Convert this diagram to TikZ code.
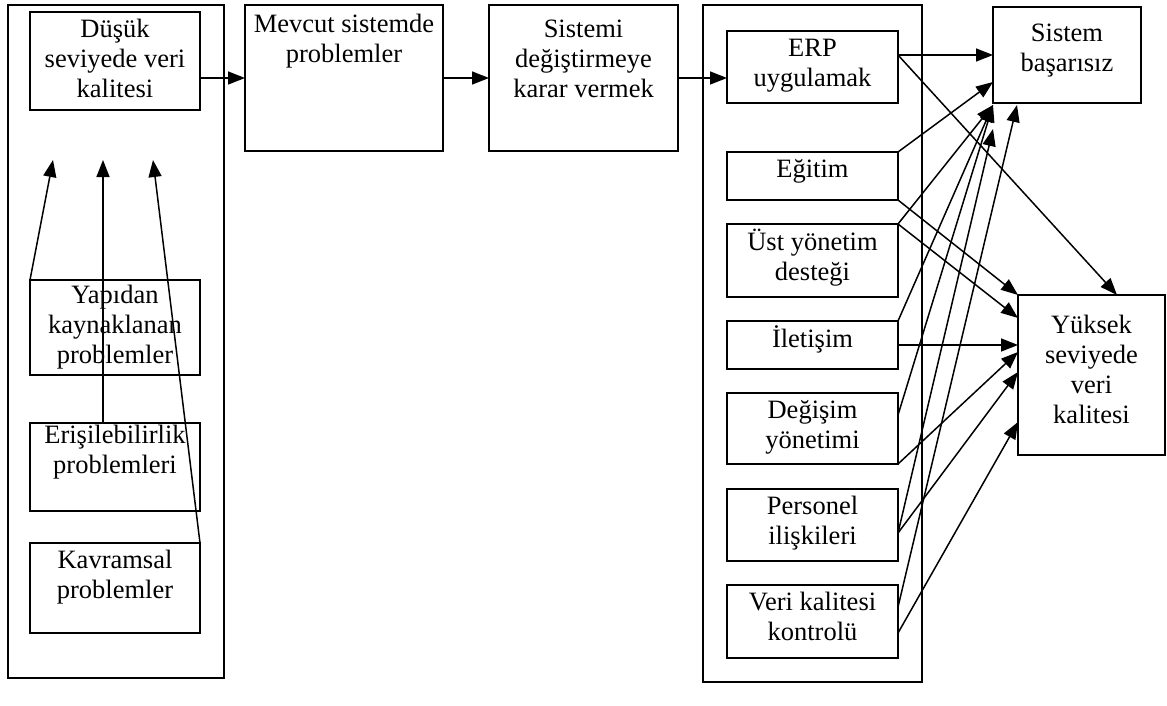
\documentclass[tikz,border=0pt]{standalone}
\usepackage{fontspec}
\setmainfont{Liberation Serif}
\usetikzlibrary{arrows.meta,calc}
\tikzset{
  box/.style={draw, line width=1.5pt, inner sep=0pt, outer sep=0pt, anchor=north west},
  txt/.style={font=\fontsize{26.5}{30}\selectfont, align=flush center, inner sep=0pt, anchor=base, text width=#1},
  txt/.default=168pt,
  conn/.style={line width=1.5pt, -{Triangle[length=17pt,width=13pt]}},
}
\begin{document}
\begin{tikzpicture}[x=1pt,y=-1pt]
\useasboundingbox (0,0) rectangle (1167,706);

% left column: causes of poor data quality
\node[box, minimum width=216pt, minimum height=673pt] (leftframe) at (8,5) {};
\node[box, minimum width=170pt, minimum height=98pt] (dusuk) at (30,12) {};
\node[txt] (dusukT) at (115,38) {Düşük\\seviyede veri\\kalitesi};
\node[box, minimum width=170pt, minimum height=95pt] (yapi) at (30,280) {};
\node[txt] (yapiT) at (115,303) {Yapıdan\\kaynaklanan\\problemler};
\node[box, minimum width=170pt, minimum height=88pt] (eris) at (30,423) {};
\node[txt] (erisT) at (115,443) {Erişilebilirlik\\problemleri};
\node[box, minimum width=170pt, minimum height=90pt] (kavr) at (30,543) {};
\node[txt] (kavrT) at (115,568) {Kavramsal\\problemler};

% middle steps
\node[box, minimum width=198pt, minimum height=146pt] (mevcut) at (245,5) {};
\node[txt=196pt] (mevcutT) at (344,33) {Mevcut sistemde\\problemler};
\node[box, minimum width=189pt, minimum height=146pt] (sistemi) at (489,5) {};
\node[txt=187pt] (sistemiT) at (583.5,38) {Sistemi\\değiştirmeye\\karar vermek};

% right column: ERP factors
\node[box, minimum width=219pt, minimum height=677pt] (rightframe) at (703,5) {};
\node[box, minimum width=171pt, minimum height=72pt] (erp) at (727,31) {};
\node[txt] (erpT) at (812.5,57) {ERP\\uygulamak};
\node[box, minimum width=171pt, minimum height=48pt] (egitim) at (727,152) {};
\node[txt] (egitimT) at (812.5,177) {Eğitim};
\node[box, minimum width=171pt, minimum height=73pt] (ust) at (727,224) {};
\node[txt] (ustT) at (812.5,250) {Üst yönetim\\desteği};
\node[box, minimum width=171pt, minimum height=48pt] (iletisim) at (727,321) {};
\node[txt] (iletisimT) at (812.5,347) {İletişim};
\node[box, minimum width=171pt, minimum height=71pt] (degisim) at (727,393) {};
\node[txt] (degisimT) at (812.5,418) {Değişim\\yönetimi};
\node[box, minimum width=171pt, minimum height=72pt] (personel) at (727,489) {};
\node[txt] (personelT) at (812.5,514) {Personel\\ilişkileri};
\node[box, minimum width=171pt, minimum height=73pt] (veri) at (727,585) {};
\node[txt] (veriT) at (812.5,610) {Veri kalitesi\\kontrolü};

% outcomes
\node[box, minimum width=148pt, minimum height=96pt] (sb) at (993,7) {};
\node[txt=146pt] (sbT) at (1067,42) {Sistem\\başarısız};
\node[box, minimum width=147pt, minimum height=160pt] (yuksek) at (1018,295) {};
\node[txt=145pt] (yuksekT) at (1091.5,333) {Yüksek\\seviyede\\veri\\kalitesi};

% arrow tips inside the left frame
\coordinate (tA) at (53,160);
\coordinate (tB) at (103,160);
\coordinate (tC) at (153,160);
\draw[conn] (yapi.north west) -- (tA);
\draw[conn] ($(eris.north west)+(73,0)$) -- (tB);
\draw[conn] (kavr.north east) -- (tC);

% main flow
\draw[conn] (dusuk.east |- mevcut.west) -- (mevcut.west);
\draw[conn] (mevcut.east) -- (sistemi.west);
\draw[conn] (sistemi.east) -- (erp.west |- sistemi.east);

% factors to outcomes
\coordinate (erpOut) at ($(erp.north east)+(0,24)$);
\coordinate (sbCorner) at ($(sb.south west)+(0,2)$);
\draw[conn] (erpOut) -- (sb.west |- erpOut);
\draw[conn] (erpOut) -- ($(yuksek.north west)+(99,0)$);
\draw[conn] (egitim.north east) -- ($(sb.north west)+(0,75)$);
\draw[conn] (egitim.south east) -- (yuksek.north west);
\draw[conn] (ust.north east) -- (sbCorner);
\draw[conn] (ust.north east) -- ($(yuksek.north west)+(0,23)$);
\draw[conn] (iletisim.north east) -- (sbCorner);
\draw[conn] (iletisim.east) -- (yuksek.west |- iletisim.east);
\draw[conn] ($(degisim.north east)+(0,22)$) -- (sbCorner);
\draw[conn] (degisim.south east) -- ($(yuksek.north west)+(0,57)$);
\coordinate (perOut) at ($(personel.north east)+(0,44)$);
\draw[conn] (perOut) -- ($(sb.south west)+(0,26)$);
\draw[conn] (perOut) -- ($(yuksek.north west)+(0,77)$);
\draw[conn] ($(veri.north east)+(0,22)$) -- ($(sb.south west)+(24,2)$);
\draw[conn] ($(veri.north east)+(0,48)$) -- ($(yuksek.north west)+(0,127)$);
\end{tikzpicture}
\end{document}
